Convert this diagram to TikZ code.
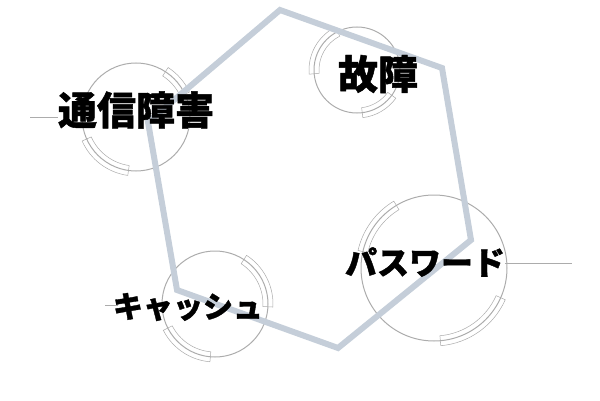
\documentclass[tikz,border=0pt]{standalone}
\usepackage{fontspec}
\newfontfamily\jpfont[BoldFeatures={FakeBold=1.2}]{Noto Sans CJK JP}
\definecolor{hexblue}{RGB}{197,206,217}
\definecolor{ringgray}{RGB}{172,172,172}
\definecolor{bandgray}{RGB}{170,170,170}
\tikzset{
    ring/.style={circle, draw=ringgray, line width=1pt, inner sep=0pt},
    band/.style={draw=bandgray, line width=0.5pt},
    hexline/.style={draw=hexblue, line width=6pt, line join=miter},
    lead/.style={draw=ringgray, line width=1pt},
    word/.style={inner sep=0pt, text=black}
}

\begin{document}
\begin{tikzpicture}[x=1pt, y=1pt]
    \useasboundingbox (0,0) rectangle (600,400);
    % =========================
    % rings and their two bands
    \foreach \i/\cx/\cy/\r/\aa/\ab/\ba/\bb in {1/136/283/54/25/57/204/262, 2/357/330/43/117/185/277/324, 3/434/132/73/121/167/275/336, 4/215/96/53/-3/57/207/265}
        {\node[ring, minimum size=2*\r pt] (ring\i) at (\cx,\cy) {};
        \pgfmathsetmacro{\rin}{\r-5}
        \pgfmathsetmacro{\rout}{\r+5}
        \draw[band] ([shift={(\aa:\rin pt)}]ring\i.center) arc (\aa:\ab:\rin pt)
            -- ([shift={(\ab:\rout pt)}]ring\i.center) arc (\ab:\aa:\rout pt) -- cycle;
        \draw[band] ([shift={(\ba:\rin pt)}]ring\i.center) arc (\ba:\bb:\rin pt)
            -- ([shift={(\bb:\rout pt)}]ring\i.center) arc (\bb:\ba:\rout pt) -- cycle;}

    % ===============================
    % the hexagon
    \coordinate (h1) at (280,390);
    \coordinate (h2) at (442,332);
    \coordinate (h3) at (471,160);
    \coordinate (h4) at (338,52);
    \coordinate (h5) at (177,110);
    \coordinate (h6) at (148,278);
    \draw[hexline] (h1) -- (h2) -- (h3) -- (h4) -- (h5) -- (h6) -- cycle;

    % ===============================
    % words and lead lines
    \node[word, font=\jpfont\bfseries\fontsize{39}{39}\selectfont] (t1) at (136,290) {通信障害};
    \node[word, font=\jpfont\bfseries\fontsize{40}{40}\selectfont] (t2) at (378,326) {故障};
    \node[word, font=\jpfont\bfseries\fontsize{32}{32}\selectfont] (t3) at (425,138) {パスワード};
    \node[word, font=\jpfont\bfseries\fontsize{30}{30}\selectfont] (t4) at (188,93) {キャッシュ};

    \coordinate (lead1) at (30,283);
    \coordinate (lead3) at (572,137);
    \coordinate (lead4) at (105,95);
    \draw[lead] (lead1) -- (lead1 -| t1.west);
    \draw[lead] (t3.east |- lead3) -- (lead3);
    \draw[lead] (lead4) -- ([xshift=5pt]lead4 -| t4.west);
\end{tikzpicture}
\end{document}
